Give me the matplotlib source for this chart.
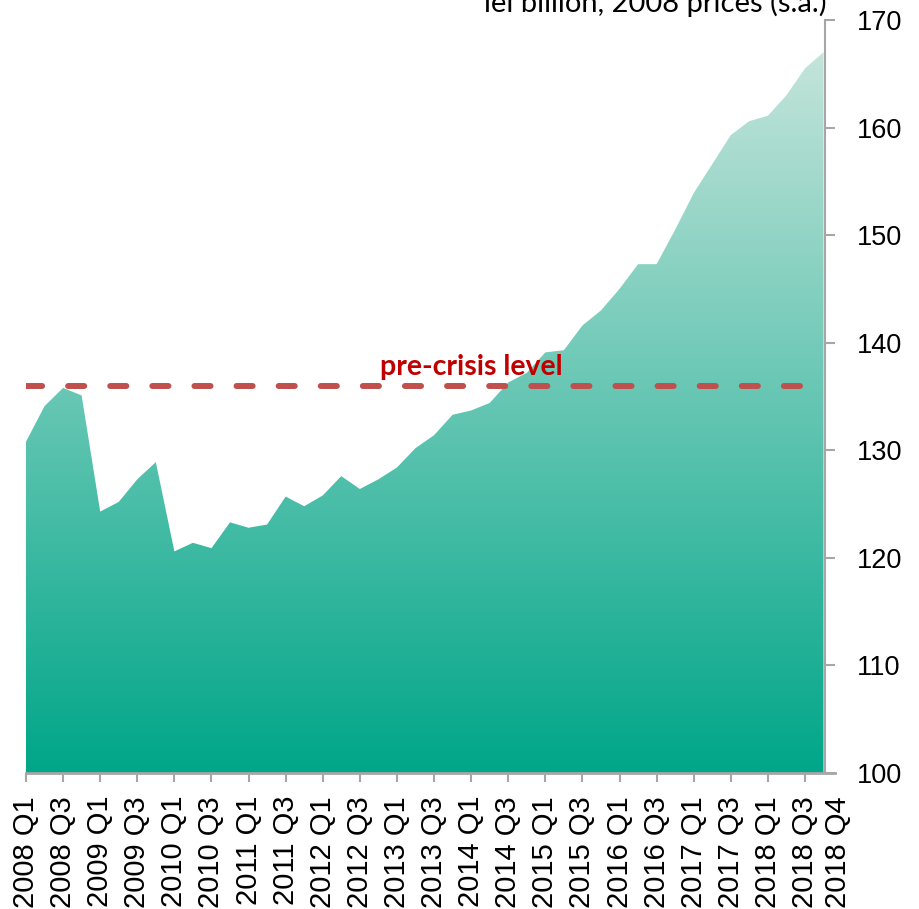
import numpy as np
import matplotlib
matplotlib.use("Agg")
import matplotlib.pyplot as plt
from matplotlib.colors import LinearSegmentedColormap
from matplotlib.transforms import ScaledTranslation, blended_transform_factory

# quarterly GDP, lei billion, 2008 prices (s.a.)
years = list(range(2008, 2019))
quarters = [f"{y} Q{q}" for y in years for q in range(1, 5)]
gdp = [
    130.8, 134.1, 135.8, 135.1,
    124.3, 125.2, 127.3, 128.9,
    120.6, 121.4, 120.9, 123.3,
    122.8, 123.1, 125.7, 124.8,
    125.8, 127.6, 126.4, 127.3,
    128.4, 130.2, 131.4, 133.3,
    133.7, 134.4, 136.3, 137.2,
    139.1, 139.3, 141.6, 143.0,
    145.0, 147.3, 147.3, 150.5,
    153.9, 156.6, 159.3, 160.6,
    161.1, 163.0, 165.5, 167.0,
]
pre_crisis = 136.0
y_ticks = [100, 110, 120, 130, 140, 150, 160, 170]

GRAY = "#A6A6A6"
TICK_FONT = "Liberation Sans"
TEXT_FONT = "Lato"
XSIZE = 21

fig = plt.figure(figsize=(9.2, 9.09), dpi=100)
ax = fig.add_axes([26 / 920, 136 / 909, 799 / 920, 753 / 909])

x = np.arange(len(gdp))
ax.set_xlim(0, len(gdp) - 1 + 0.08)
ax.set_ylim(100, 170)

# gradient area
poly = ax.fill_between(x, 100, gdp, color="none", lw=0)
cmap = LinearSegmentedColormap.from_list("g", ["#00A689", "#CDE7DE"])
grad = np.linspace(0, 1, 256).reshape(-1, 1)
img = ax.imshow(grad, cmap=cmap, origin="lower", aspect="auto",
                extent=[x[0], x[-1], 100, 170], zorder=1)
img.set_clip_path(poly.get_paths()[0], transform=ax.transData)

# pre-crisis dashed line
ax.plot([x[0], x[-1]], [pre_crisis, pre_crisis], color="#C0504D", lw=4.3,
        dashes=(2.7, 4.35), dash_capstyle="round", zorder=3)
ax.text(24.0, pre_crisis + 1.0, "pre-crisis level", color="#C00000",
        fontsize=20.5, fontweight="bold", family=TEXT_FONT,
        ha="center", va="baseline", zorder=4)

# axes styling
for s in ["left", "top", "bottom"]:
    ax.spines[s].set_visible(False)
ax.spines["right"].set_color(GRAY)
ax.spines["right"].set_linewidth(1.5)
ax.plot([0, 1.013], [0, 0], transform=ax.transAxes, color=GRAY, lw=2,
        clip_on=False, zorder=5)

ax.yaxis.tick_right()
ax.set_yticks(y_ticks)
ax.set_yticklabels([str(v) for v in y_ticks], fontsize=19.5, family=TICK_FONT)
ax.tick_params(axis="y", direction="out", length=7.2, width=1.5, color=GRAY,
               pad=15.5)

major = list(range(0, len(quarters) - 1, 2))
ax.set_xticks(major)
ax.set_xticklabels([quarters[i] for i in major], rotation=90, fontsize=XSIZE,
                   family=TICK_FONT)
ax.tick_params(axis="x", direction="out", length=6.5, width=1.5,
               color=GRAY, pad=10)

# last quarter label, no tick, nudged right like the source chart
trans = blended_transform_factory(ax.transData, ax.transAxes) + \
    ScaledTranslation(14 / 100, -(9 + 14) / 100, fig.dpi_scale_trans)
ax.text(len(quarters) - 1, 0, quarters[-1], transform=trans, rotation=90,
        fontsize=XSIZE, family=TICK_FONT, ha="center", va="top")

fig.text(827 / 920, 897 / 909, "lei billion, 2008 prices (s.a.)", fontsize=21,
         family=TEXT_FONT, ha="right", va="baseline")

fig.savefig("out.png", dpi=100, facecolor="white")
